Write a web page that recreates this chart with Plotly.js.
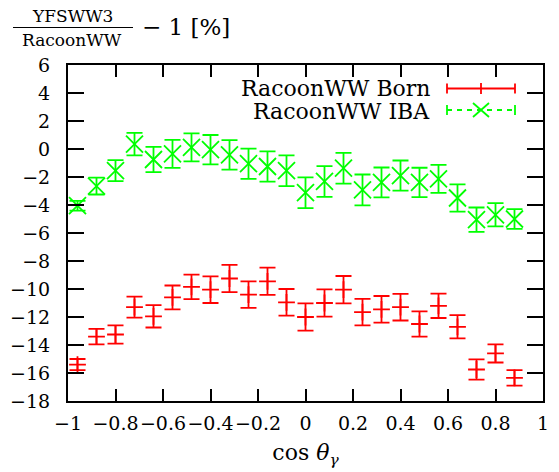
<!DOCTYPE html>
<html>
<head>
<meta charset="utf-8">
<script src="https://cdn.plot.ly/plotly-3.0.1.min.js"></script>
<style>html,body{margin:0;padding:0;background:#fff;}#chart{width:559px;height:472px;}</style>
</head>
<body>
<div id="chart"></div>
<script>
// ---- data ----
const cosTheta = [-0.96,-0.88,-0.80,-0.72,-0.64,-0.56,-0.48,-0.40,-0.32,-0.24,-0.16,-0.08,
                  0.00,0.08,0.16,0.24,0.32,0.40,0.48,0.56,0.64,0.72,0.80,0.88];
const bornName = "RacoonWW Born";
const bornVal = [-15.4,-13.4,-13.25,-11.3,-11.95,-10.6,-9.85,-10.05,-9.25,-10.4,-9.45,-10.95,
                 -12.0,-11.0,-10.05,-11.65,-11.45,-11.3,-12.5,-11.2,-12.7,-15.75,-14.6,-16.35];
const bornErr = [0.4,0.55,0.65,0.75,0.8,0.85,0.88,0.95,0.97,0.95,0.97,0.95,
                 0.98,0.98,0.98,0.95,0.95,0.95,0.9,0.87,0.83,0.73,0.65,0.55];
const ibaName = "RacoonWW IBA";
const ibaVal = [-4.05,-2.65,-1.55,0.35,-0.75,-0.35,0.12,-0.05,-0.42,-1.05,-1.25,-1.55,
                -3.12,-2.32,-1.37,-2.92,-2.39,-1.9,-2.39,-2.13,-3.5,-5.05,-4.7,-5.0];
const ibaErr = [0.35,0.6,0.75,0.8,0.9,1.0,1.0,1.05,1.05,1.08,1.08,1.1,
                1.1,1.1,1.1,1.1,1.07,1.08,1.05,1.0,0.97,0.87,0.83,0.7];
const xTicks = [-1,-0.8,-0.6,-0.4,-0.2,0,0.2,0.4,0.6,0.8,1];
const yTicks = [-18,-16,-14,-12,-10,-8,-6,-4,-2,0,2,4,6];

const RED = '#ff0000', GREEN = '#00ff00';
const FONT = 'DejaVu Serif';
const W = 559, H = 472, ML = 68, MR = 16, MT = 65, MB = 71;
const PW = W - ML - MR, PH = H - MT - MB;
const px = p => (p - ML) / PW;            // pixel x -> paper
const py = p => (H - MB - p) / PH;        // pixel y -> paper

const traces = [
  {
    x: cosTheta, y: bornVal, name: bornName, type: 'scatter', mode: 'markers',
    marker: {symbol: 'cross-thin-open', size: 12, color: RED, line: {color: RED, width: 1.8}},
    error_y: {type: 'data', array: bornErr, visible: true, color: RED, thickness: 1.8, width: 8},
    showlegend: false
  },
  {
    x: cosTheta, y: ibaVal, name: ibaName, type: 'scatter', mode: 'markers',
    marker: {symbol: 'x-thin-open', size: 17, color: GREEN, line: {color: GREEN, width: 1.8}},
    error_y: {type: 'data', array: ibaErr, visible: true, color: GREEN, thickness: 1.8, width: 8},
    showlegend: false
  }
];

// manual gnuplot-style key (text left, sample right)
const shapes = [];
function seg(x0, y0, x1, y1, color, dash, width) {
  shapes.push({type: 'line', xref: 'paper', yref: 'paper',
    x0: px(x0), y0: py(y0), x1: px(x1), y1: py(y1),
    line: {color: color, width: width || 1.8, dash: dash || 'solid'}});
}
// Born sample
seg(447, 88.5, 515, 88.5, RED);
seg(447, 83.5, 447, 93.5, RED);
seg(515, 83.5, 515, 93.5, RED);
seg(481, 83, 481, 94, RED);
// IBA sample
seg(447, 110, 515, 110, GREEN, '5px,5px');
seg(447, 105, 447, 115, GREEN);
seg(515, 105, 515, 115, GREEN);
seg(473, 103, 489, 117, GREEN);
seg(473, 117, 489, 103, GREEN);
// title fraction bar
seg(13, 27.5, 133, 27.5, '#000', 'solid', 1.2);

const annotations = [
  {text: bornName, xref: 'paper', yref: 'paper', x: px(432), y: py(89), xanchor: 'right', yanchor: 'middle',
   showarrow: false, font: {family: FONT, size: 22, color: '#000'}},
  {text: ibaName, xref: 'paper', yref: 'paper', x: px(432), y: py(112), xanchor: 'right', yanchor: 'middle',
   showarrow: false, font: {family: FONT, size: 22, color: '#000'}},
  {text: 'YFSWW3', xref: 'paper', yref: 'paper', x: px(72), y: py(27), xanchor: 'center', yanchor: 'bottom',
   showarrow: false, font: {family: FONT, size: 17, color: '#000'}, borderpad: 0},
  {text: 'RacoonWW', xref: 'paper', yref: 'paper', x: px(72), y: py(29), xanchor: 'center', yanchor: 'top',
   showarrow: false, font: {family: FONT, size: 17, color: '#000'}, borderpad: 0},
  {text: '\u2212 1 [%]', xref: 'paper', yref: 'paper', x: px(140), y: py(27), xanchor: 'left', yanchor: 'middle',
   showarrow: false, font: {family: FONT, size: 23, color: '#000'}}
];

const axisCommon = {
  showline: true, linecolor: '#000', linewidth: 2, mirror: 'ticks',
  ticks: 'inside', tickwidth: 2, tickcolor: '#000',
  showgrid: false, zeroline: false,
  tickfont: {family: FONT, size: 19, color: '#000'}
};

const layout = {
  width: W, height: H,
  margin: {l: ML, r: MR, t: MT, b: MB, pad: 0},
  paper_bgcolor: '#fff', plot_bgcolor: '#fff',
  showlegend: false,
  xaxis: Object.assign({}, axisCommon, {
    range: [-1, 1], tickvals: xTicks, ticktext: xTicks.map(v => String(v).replace('-', '\u2212')),
    ticklen: 12, ticklabelstandoff: 4, tickangle: 0,
    title: {text: 'cos <i>θ</i><sub><i>γ</i></sub>', font: {family: FONT, size: 22, color: '#000'}, standoff: 12}
  }),
  yaxis: Object.assign({}, axisCommon, {
    range: [-18, 6], tickvals: yTicks, ticktext: yTicks.map(v => String(v).replace('-', '\u2212')),
    ticklen: 16, ticklabelstandoff: 12
  }),
  shapes: shapes,
  annotations: annotations
};

Plotly.newPlot('chart', traces, layout, {displayModeBar: false, staticPlot: true});
</script>
</body>
</html>
